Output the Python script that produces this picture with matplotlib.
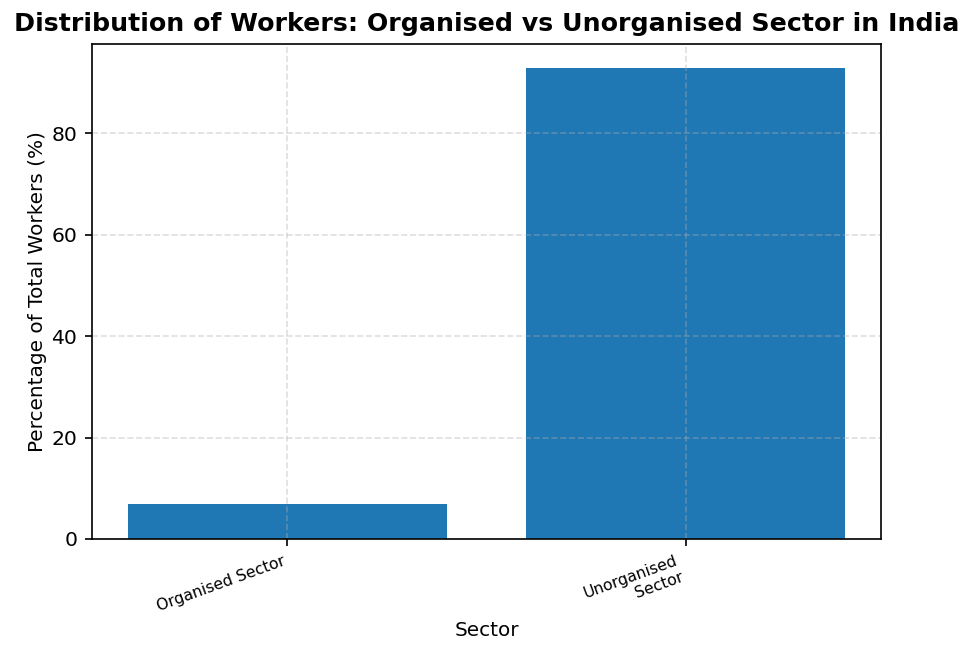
import matplotlib
matplotlib.use("Agg")
import matplotlib.pyplot as plt

categories = ["Organised Sector", "Unorganised\nSector"]
values = [7, 93]

W, H = 973, 657
fig = plt.figure(figsize=(W / 150, H / 150), dpi=150)
ax = fig.add_axes([92 / W, 1 - 539 / H, (881 - 92) / W, (539 - 44) / H])
ax.bar(categories, values, color="#1f77b4")
ax.set_title("Distribution of Workers: Organised vs Unorganised Sector in India",
             fontsize=12.1, fontweight="bold")
ax.set_xlabel("Sector", fontsize=9.6, labelpad=1.5)
ax.set_ylabel("Percentage of Total Workers (%)", fontsize=9.6, labelpad=2)
ax.grid(True, linestyle="--", alpha=0.4)
ax.tick_params(axis="y", labelsize=9.8)
plt.setp(ax.get_xticklabels(), rotation=20, ha="right", fontsize=7.5)
fig.savefig("out.png", dpi=150)
